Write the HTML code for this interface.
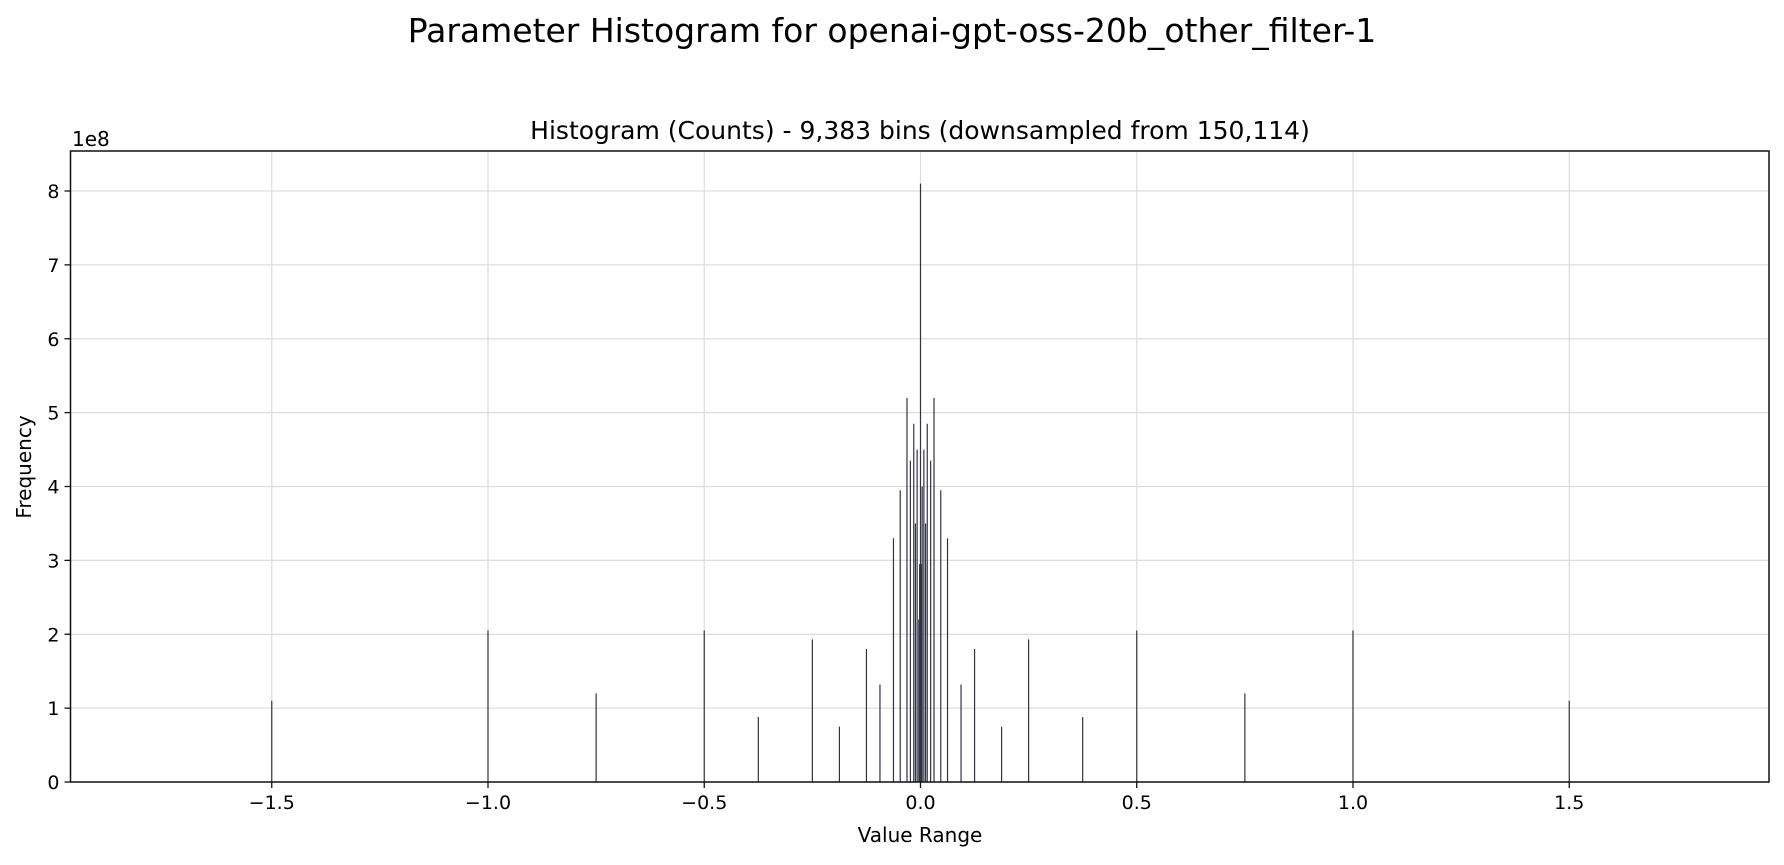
<!DOCTYPE html>
<html><head><meta charset="utf-8"><style>
body{margin:0;background:#fff;font-family:"Liberation Sans","DejaVu Sans",sans-serif}
</style></head><body>
<svg width="1784" height="860" xmlns="http://www.w3.org/2000/svg" font-family="DejaVu Sans, Liberation Sans, sans-serif">
<text x="892" y="42" font-size="33" text-anchor="middle">Parameter Histogram for openai-gpt-oss-20b_other_filter-1</text>
<text x="920" y="139" font-size="25" text-anchor="middle">Histogram (Counts) - 9,383 bins (downsampled from 150,114)</text>
<text x="72" y="146" font-size="20">1e8</text>
<g id="grid"></g><g id="bars"></g><g id="axes"></g>
<text x="920" y="842" font-size="20" text-anchor="middle">Value Range</text>
<text transform="translate(31,467) rotate(-90)" font-size="20" text-anchor="middle">Frequency</text>
</svg>
<script>
const binCenters=[-1.5,-1.0,-0.75,-0.5,-0.375,-0.25,-0.1875,-0.125,-0.09375,-0.0625,-0.046875,-0.03125,-0.0234,-0.0156,-0.0117,-0.0078,-0.0039,-0.002,0,0.002,0.0039,0.0078,0.0117,0.0156,0.0234,0.03125,0.046875,0.0625,0.09375,0.125,0.1875,0.25,0.375,0.5,0.75,1.0,1.5];
const counts=[1.1,2.05,1.2,2.05,0.88,1.93,0.75,1.8,1.32,3.3,3.95,5.2,4.35,4.85,3.5,4.5,2.2,2.95,8.1,2.95,4.0,4.5,3.5,4.85,4.35,5.2,3.95,3.3,1.32,1.8,0.75,1.93,0.88,2.05,1.2,2.05,1.1];
const xTicks=[-1.5,-1.0,-0.5,0.0,0.5,1.0,1.5];
const xTickLabels=["\u22121.5","\u22121.0","\u22120.5","0.0","0.5","1.0","1.5"];
const yTicks=[0,1,2,3,4,5,6,7,8];
const L=70.5,R=1769,T=151,B=782;
const xs=v=>920.5+v*432.5;
const ys=v=>B-v*(B-191)/8;
const NS="http://www.w3.org/2000/svg";
function mk(t,a,p){const e=document.createElementNS(NS,t);for(const k in a)e.setAttribute(k,a[k]);p.appendChild(e);return e;}
const grid=document.getElementById('grid'),bars=document.getElementById('bars'),axes=document.getElementById('axes');
xTicks.forEach((v,i)=>{
 const g=mk('line',{x1:xs(v),x2:xs(v),y1:T,y2:B,stroke:'#dddddd','stroke-width':1.2},grid);
 
 
 mk('line',{x1:xs(v),x2:xs(v),y1:B,y2:B+6,stroke:'#111','stroke-width':1.3},axes);
 const t=mk('text',{x:xs(v),y:B+27,'font-size':19,'text-anchor':'middle'},axes);t.textContent=xTickLabels[i];
 
 
});
yTicks.forEach(v=>{
 const g=mk('line',{x1:L,x2:R,y1:ys(v),y2:ys(v),stroke:'#dddddd','stroke-width':1.2},grid);
 
 
 mk('line',{x1:L-6,x2:L,y1:ys(v),y2:ys(v),stroke:'#111','stroke-width':1.3},axes);
 const t=mk('text',{x:L-11,y:ys(v)+7,'font-size':19,'text-anchor':'end'},axes);t.textContent=v;
 
 
});
binCenters.forEach((c,i)=>{
 const b=mk('line',{x1:xs(c),x2:xs(c),y1:B,y2:ys(counts[i]),stroke:'#333344','stroke-width':1.2},bars);
 
 
});
const fr=mk('rect',{x:L,y:T,width:R-L,height:B-T,fill:'none',stroke:'#111','stroke-width':1.5},axes);


</script>
</body></html>
